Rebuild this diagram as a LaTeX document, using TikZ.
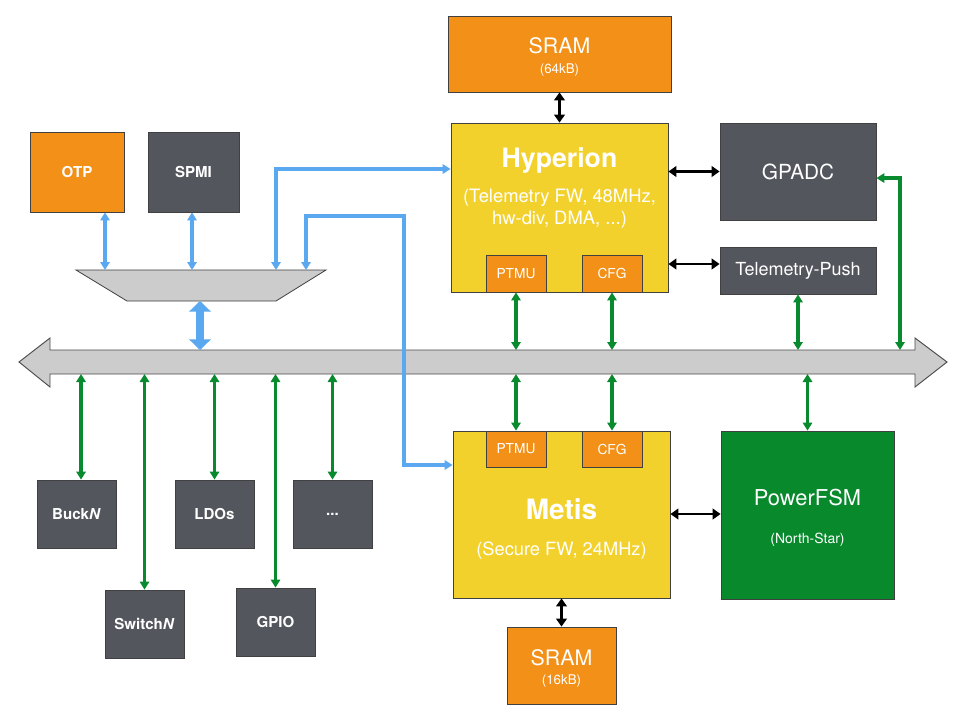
\documentclass[tikz,border=0pt]{standalone}
\usepackage{fontspec}
\setmainfont{TeX Gyre Heros}
\usetikzlibrary{arrows.meta}

\definecolor{socorange}{HTML}{F29018}
\definecolor{socgrey}{HTML}{53565D}
\definecolor{socyellow}{HTML}{F3D12D}
\definecolor{socgreen}{HTML}{07892C}
\definecolor{linkgreen}{HTML}{0A8A2F}
\definecolor{busgrey}{HTML}{CCCCCC}
\definecolor{linkblue}{HTML}{5AA8F0}

\newcommand{\fsz}[2]{\fontsize{#1}{#2}\selectfont}

\begin{document}
\begin{tikzpicture}[x=0.75pt,y=-0.75pt]
\tikzstyle{every node}+=[inner sep=0pt, text=white]
\tikzstyle{box}=[draw=black!75, line width=0.6pt, rectangle]
\tikzset{sized/.style 2 args={minimum width=#1*0.75pt, minimum height=#2*0.75pt}}
\tikzstyle{lbl}=[anchor=base]
\tikzstyle{small}=[font=\bfseries\fsz{11.3}{13}]
\tikzstyle{kline}=[line width=2.2pt, {Triangle[length=6pt,width=8pt]}-{Triangle[length=6pt,width=8pt]}]
\tikzstyle{gline}=[linkgreen, line width=2.4pt, {Triangle[length=6pt,width=7pt]}-{Triangle[length=6pt,width=7pt]}]
\tikzstyle{bline}=[linkblue, line width=3pt, {Triangle[length=6pt,width=7pt]}-{Triangle[length=6pt,width=7pt]}]
\tikzstyle{tline}=[linkblue, line width=2.3pt, {Triangle[length=6pt,width=7pt]}-{Triangle[length=6pt,width=7pt]}]
\fill[white] (0,0) rectangle (967,711);
\useasboundingbox (0,0) rectangle (967,711);

% system bus
\draw [fill=busgrey, draw=black!70, line width=0.7pt] (19,362) -- (50,338) -- (50,350) -- (915,350) -- (915,338) -- (947,362) -- (915,387) -- (915,374) -- (50,374) -- (50,387) -- cycle;
\coordinate (bustop) at (0,350);
\coordinate (busbot) at (0,374);
\coordinate (gptap) at (900,350);

% mux
\draw [fill=busgrey, draw=black!75, line width=0.6pt] (76,270) -- (326,270) -- (276,301) -- (127,301) -- cycle;
\coordinate (otpmux) at (105,270);
\coordinate (spmimux) at (192,270);
\coordinate (muxin1) at (276,270);
\coordinate (muxin2) at (306,270);
\coordinate (muxbot) at (200,301);

\node [box, fill=socorange, small, sized={94}{80}] (otp) at (77,172) {OTP};
\node [box, fill=socgrey, small, sized={91}{80}] (spmi) at (193.5,172) {SPMI};

\node [box, fill=socorange, sized={223}{76}] (sramh) at (559.5,54) {};
\node [lbl, font=\fsz{16}{18}] (sramhname) at (559.5,53) {SRAM};
\node [lbl, font=\fsz{10}{12}] (sramhsize) at (559.5,73) {(64kB)};

\node [box, fill=socyellow, sized={217}{169}] (hyp) at (559.5,207.5) {};
\node [lbl, font=\bfseries\fsz{20}{24}] (hypname) at (559.5,167) {Hyperion};
\node [lbl, font=\fsz{13.8}{16}] (hypinfo) at (559.5,202) {(Telemetry FW, 48MHz,};
\node [lbl, font=\fsz{13.8}{16}] (hypinfob) at (559.5,224) {hw-div, DMA, ...)};
\node [box, fill=socorange, font=\fsz{10.3}{12}, sized={60}{37}] (hptmu) at (516,273.5) {PTMU};
\node [box, fill=socorange, font=\fsz{10.3}{12}, sized={60}{37}] (hcfg) at (612,273.5) {CFG};

\node [box, fill=socgrey, font=\fsz{15.6}{18}, sized={156}{97}] (gpadc) at (798,171.5) {GPADC};
\node [box, fill=socgrey, font=\fsz{13.5}{16}, sized={156}{47}] (tpush) at (798,270.5) {Telemetry-Push};

\node [box, fill=socyellow, sized={217}{167}] (metis) at (561.5,514.5) {};
\node [lbl, font=\bfseries\fsz{21}{24}] (metisname) at (561.5,519) {Metis};
\node [lbl, font=\fsz{13.7}{16}] (metisinfo) at (561.5,555) {(Secure FW, 24MHz)};
\node [box, fill=socorange, font=\fsz{10.3}{12}, sized={60}{36}] (mptmu) at (516,449) {PTMU};
\node [box, fill=socorange, font=\fsz{10.3}{12}, sized={60}{36}] (mcfg) at (612,449) {CFG};

\node [box, fill=socgreen, sized={173}{168}] (pfsm) at (807.5,515) {};
\node [lbl, font=\fsz{16.4}{18}] (pfsmname) at (807.5,505) {PowerFSM};
\node [lbl, font=\fsz{10.5}{12}] (pfsminfo) at (807.5,543) {(North-Star)};

\node [box, fill=socorange, sized={109}{77}] (sramm) at (561.5,665.5) {};
\node [lbl, font=\fsz{16}{18}] (srammname) at (561.5,665) {SRAM};
\node [lbl, font=\fsz{10}{12}] (srammsize) at (561.5,684) {(16kB)};

\node [box, fill=socgrey, small, sized={79}{68}] (buck) at (76.5,514) {Buck\textit{N}};
\node [box, fill=socgrey, small, sized={79}{68}] (ldos) at (214.5,514) {LDOs};
\node [box, fill=socgrey, small, sized={79}{68}] (more) at (332.5,514) {...};
\node [box, fill=socgrey, small, sized={79}{68}] (switch) at (144.5,624) {Switch\textit{N}};
\node [box, fill=socgrey, small, sized={79}{68}] (gpio) at (275.5,622) {GPIO};

% black links
\draw [kline] (sramh) -- (hyp);
\draw [kline] (hyp.east |- gpadc) -- (gpadc.west);
\draw [kline] (hyp.east |- 0,264) -- (tpush.west |- 0,264);
\draw [kline] (metis.east |- 0,514) -- (pfsm.west |- 0,514);
\draw [kline] (metis) -- (sramm);

% blue links
\draw [tline] (otpmux |- otp.south) -- (otpmux);
\draw [tline] (spmimux |- spmi.south) -- (spmimux);
\draw [bline] (muxin1) |- (hyp.west |- 0,169);
\draw [bline] (muxin2) |- (404,216) |- (metis.west |- 0,465);
\draw [linkblue, line width=6pt, {Triangle[length=8pt,width=16pt]}-{Triangle[length=8pt,width=16pt]}] (muxbot) -- (muxbot |- bustop);

% green links
\draw [gline] (hptmu) -- (hptmu |- bustop);
\draw [gline] (hcfg) -- (hcfg |- bustop);
\draw [gline] (tpush) -- (tpush |- bustop);
\draw [gline] ([yshift=-4.9pt]gpadc.east) -| (gptap);
\draw [gline] (mptmu) -- (mptmu |- busbot);
\draw [gline] (mcfg) -- (mcfg |- busbot);
\draw [gline] (pfsm) -- (pfsm |- busbot);
\draw [gline] ([xshift=3.4pt]buck.north) -- ([xshift=3.4pt]buck.north |- busbot);
\draw [gline] (switch) -- (switch |- busbot);
\draw [gline] (ldos) -- (ldos |- busbot);
\draw [gline] (gpio) -- (gpio |- busbot);
\draw [gline] (more) -- (more |- busbot);
\end{tikzpicture}
\end{document}
